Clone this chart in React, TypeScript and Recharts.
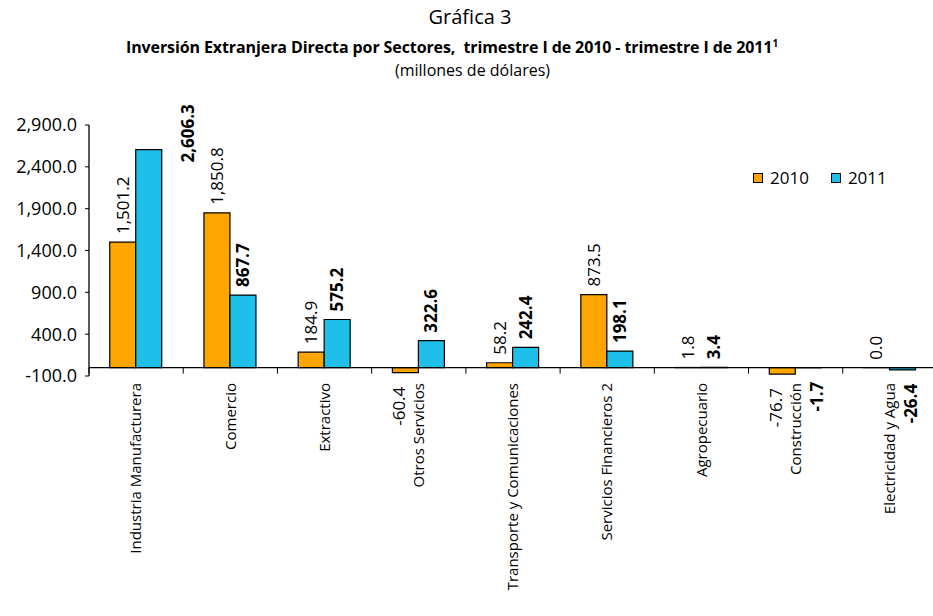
import { Bar, BarChart, LabelList, ReferenceLine, XAxis, YAxis } from "recharts";

const CATEGORIES = [
  "Industria Manufacturera",
  "Comercio",
  "Extractivo",
  "Otros Servicios",
  "Transporte y Comunicaciones",
  "Servicios Financieros 2",
  "Agropecuario",
  "Construcción",
  "Electricidad y Agua",
];
const VALUES_2010 = [1501.2, 1850.8, 184.9, -60.4, 58.2, 873.5, 1.8, -76.7, 0.0];
const VALUES_2011 = [2606.3, 867.7, 575.2, 322.6, 242.4, 198.1, 3.4, -1.7, -26.4];
const Y_TICKS = [-100, 400, 900, 1400, 1900, 2400, 2900];
const SERIES_NAMES = ["2010", "2011"];

const ORANGE = "#FFA500";
const BLUE = "#1EBFE9";
const FONT = "'Open Sans', 'Noto Sans', sans-serif";

const chartData = CATEGORIES.map((name, i) => ({
  name,
  v2010: VALUES_2010[i],
  v2011: VALUES_2011[i],
}));

const fmt = (n: number) =>
  n.toLocaleString("en-US", { minimumFractionDigits: 1, maximumFractionDigits: 1 });

function CategoryTick({ x, y, payload }: any) {
  return (
    <text
      x={x}
      y={y}
      transform={`rotate(-90, ${x}, ${y})`}
      textAnchor="end"
      dy="0.35em"
      fontSize={15}
      fontFamily={FONT}
      fill="#000"
    >
      {payload.value}
    </text>
  );
}

// negShift: sideways nudge of labels under negative bars
function makeValueLabel(values: number[], bold: boolean, negShift: number) {
  return function ValueLabel(props: any) {
    const { x, width, index } = props;
    const y = Number(props.y);
    const height = Number(props.height) || 0;
    const v = values[index];
    const text = fmt(v);
    const top = Math.min(y, y + height);
    const bottom = Math.max(y, y + height);
    let cx = x + width / 2;
    let ly: number;
    let anchor: "start" | "end";
    if (v >= 0) {
      ly = top - 8;
      anchor = "start";
      // label would run into the titles: put it beside the bar
      if (ly - text.length * 8.5 < 95) {
        cx = cx + width * 1.5;
        ly = top + 13;
      }
    } else {
      cx += negShift;
      ly = bottom + 14;
      anchor = "end";
    }
    return (
      <text
        x={cx}
        y={ly}
        transform={`rotate(-90, ${cx}, ${ly})`}
        textAnchor={anchor}
        dy="0.35em"
        fontSize={17}
        fontWeight={bold ? 700 : 400}
        fontFamily={FONT}
        fill="#000"
      >
        {text}
      </text>
    );
  };
}

function ZeroAxis(props: any) {
  const { x1, y1, x2 } = props;
  const n = CATEGORIES.length;
  const step = (x2 - x1) / n;
  return (
    <g>
      <line x1={x1} y1={y1} x2={x2} y2={y1} stroke="#000" strokeWidth={1.3} />
      {Array.from({ length: n + 1 }, (_, i) => (
        <line key={i} x1={x1 + i * step} y1={y1} x2={x1 + i * step} y2={y1 + 6} stroke="#000" strokeWidth={1} />
      ))}
    </g>
  );
}

function LegendBox() {
  const colors = [ORANGE, BLUE];
  return (
    <div style={{ display: "flex", gap: 22, fontFamily: FONT, fontSize: 17, color: "#000" }}>
      {SERIES_NAMES.map((s, i) => (
        <div key={s} style={{ display: "flex", alignItems: "center", gap: 7 }}>
          <span style={{ width: 8, height: 8, background: colors[i], border: "1px solid #000", display: "inline-block" }} />
          <span>{s}</span>
        </div>
      ))}
    </div>
  );
}

const minSize = (v: any) => (Number(v) === 0 ? 0.01 : 0);

export default function App() {
  return (
    <div style={{ position: "absolute", left: 0, top: 0, width: 933, height: 616, overflow: "hidden", background: "#fff" }}>
      <div style={{ position: "absolute", top: 3, left: 0, width: 940, textAlign: "center", fontFamily: FONT, fontSize: 20 }}>
        Gráfica 3
      </div>
      <div style={{ position: "absolute", top: 36, left: 0, width: 904, textAlign: "center", fontFamily: FONT, fontSize: 16, fontWeight: 700, letterSpacing: -0.1 }}>
        Inversión Extranjera Directa por Sectores,&nbsp; trimestre I de 2010 - trimestre I de 2011
        <sup style={{ fontSize: 10 }}>1</sup>
      </div>
      <div style={{ position: "absolute", top: 59, left: 0, width: 945, textAlign: "center", fontFamily: FONT, fontSize: 16 }}>
        (millones de dólares)
      </div>
      <div style={{ position: "absolute", left: 0, top: 0 }}>
        <BarChart
          width={937}
          height={616}
          data={chartData}
          margin={{ top: 125, right: 0, bottom: 10, left: 0 }}
          barGap={0}
          barCategoryGap="22%"
        >
          <XAxis
            dataKey="name"
            interval={0}
            axisLine={false}
            tickLine={false}
            tickSize={0}
            tickMargin={7}
            height={230}
            tick={<CategoryTick />}
          />
          <YAxis
            width={89}
            domain={[-100, 2900]}
            ticks={Y_TICKS}
            tickFormatter={(v) => fmt(Number(v))}
            axisLine={{ stroke: "#000", strokeWidth: 1.3 }}
            tickLine={{ stroke: "#000" }}
            tickSize={4}
            tickMargin={8}
            tick={{ fill: "#000", fontSize: 18, fontFamily: FONT }}
            allowDataOverflow
          />
          <ReferenceLine y={0} shape={<ZeroAxis />} ifOverflow="visible" />
          <Bar dataKey="v2010" name="2010" fill={ORANGE} stroke="#000" strokeWidth={1.2} minPointSize={minSize} isAnimationActive={false}>
            <LabelList dataKey="v2010" content={makeValueLabel(VALUES_2010, false, -6)} />
          </Bar>
          <Bar dataKey="v2011" name="2011" fill={BLUE} stroke="#000" strokeWidth={1.2} minPointSize={minSize} isAnimationActive={false}>
            <LabelList dataKey="v2011" content={makeValueLabel(VALUES_2011, true, 9)} />
          </Bar>
        </BarChart>
      </div>
      <div style={{ position: "absolute", left: 753, top: 166 }}>
        <LegendBox />
      </div>
    </div>
  );
}
